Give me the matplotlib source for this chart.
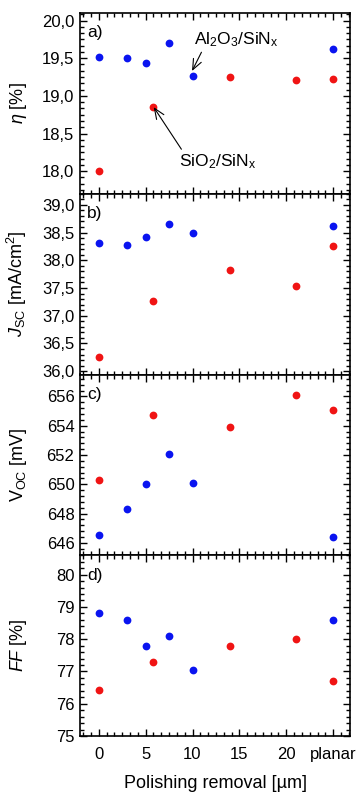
import matplotlib
matplotlib.use("Agg")
import matplotlib.pyplot as plt
from matplotlib.ticker import MultipleLocator, FixedLocator, FuncFormatter

plt.rcParams['font.family'] = ['Liberation Sans', 'DejaVu Sans']
plt.rcParams['mathtext.fontset'] = 'custom'
plt.rcParams['mathtext.rm'] = 'Liberation Sans'
plt.rcParams['mathtext.it'] = 'Liberation Sans:italic'

# x positions (polishing removal in µm; 25 stands for "planar")
x_al = [0, 3, 5, 7.5, 10, 25]
x_si = [0, 5.8, 14, 21, 25]

eta_al = [19.52, 19.50, 19.43, 19.70, 19.27, 19.62]
eta_si = [18.00, 18.85, 19.25, 19.21, 19.22]

jsc_al = [38.32, 38.28, 38.42, 38.65, 38.49, 38.62]
jsc_si = [36.26, 37.27, 37.83, 37.54, 38.26]

voc_al = [646.5, 648.3, 650.0, 652.1, 650.1, 646.4]
voc_si = [650.3, 654.7, 653.9, 656.1, 655.1]

ff_al = [78.8, 78.6, 77.8, 78.1, 77.06, 78.6]
ff_si = [76.44, 77.28, 77.8, 78.0, 76.69]

xtick_pos = [0, 5, 10, 15, 20, 25]
xtick_labels = ['0', '5', '10', '15', '20', 'planar']

ylabels = [r'$\it{\eta}$ [%]', r'$\it{J}_{\mathrm{SC}}$ [mA/cm$^2$]',
           r'V$_{\mathrm{OC}}$ [mV]', r'$\it{FF}$ [%]']
panel_letters = ['a)', 'b)', 'c)', 'd)']

ylims = [(17.7, 20.1), (35.94, 39.2), (645.15, 657.5), (75.0, 80.6)]
ymajor = [0.5, 0.5, 2, 1]
yminor = [0.5 / 6, 0.1, 0.4, 0.2]

blue = '#0a14f0'
red = '#f01414'

fig, axes = plt.subplots(4, 1, figsize=(3.62, 7.95), dpi=100, sharex=True)
fig.subplots_adjust(left=80 / 362, right=350 / 362, top=1 - 13 / 795, bottom=1 - 736 / 795, hspace=0)

data = [(eta_al, eta_si), (jsc_al, jsc_si), (voc_al, voc_si), (ff_al, ff_si)]

for i, ax in enumerate(axes):
    al, si = data[i]
    ax.plot(x_al, al, 'o', color=blue, ms=5.6, mec='none')
    ax.plot(x_si, si, 'o', color=red, ms=5.6, mec='none')
    ax.set_xlim(-2, 26.8)
    ax.set_ylim(*ylims[i])
    ax.xaxis.set_major_locator(FixedLocator(xtick_pos))
    ax.xaxis.set_minor_locator(MultipleLocator(5 / 6))
    ax.yaxis.set_major_locator(MultipleLocator(ymajor[i]))
    ax.yaxis.set_minor_locator(MultipleLocator(yminor[i]))
    if i < 2:
        ax.yaxis.set_major_formatter(FuncFormatter(lambda v, p: f'{v:.1f}'.replace('.', ',')))
    else:
        ax.yaxis.set_major_formatter(FuncFormatter(lambda v, p: f'{v:.0f}'))
    ax.tick_params(which='both', direction='in', top=True, right=True, labelsize=12, width=1.0)
    ax.tick_params(which='major', length=5, pad=4)
    ax.tick_params(axis='x', which='major', pad=8)
    ax.tick_params(which='minor', length=3)
    for s in ax.spines.values():
        s.set_linewidth(1.2)
    ax.set_ylabel(ylabels[i], fontsize=13)
    ax.yaxis.set_label_coords(-0.19, 0.5)
    ax.text(0.025, 0.89, panel_letters[i], transform=ax.transAxes, fontsize=12.5, ha='left', va='center')

axes[-1].set_xticklabels(xtick_labels)
axes[-1].set_xlabel('Polishing removal [µm]', fontsize=13, labelpad=9)

ax = axes[0]
ax.annotate(r'Al$_2$O$_3$/SiN$_\mathrm{x}$', xy=(9.95, 19.33), xytext=(10.2, 19.74),
            fontsize=12.5, ha='left', va='center',
            arrowprops=dict(arrowstyle='->,head_length=0.6,head_width=0.25', color='black', lw=0.8,
                            shrinkA=0, shrinkB=0, relpos=(0.1, 0.0)))
ax.annotate(r'SiO$_2$/SiN$_\mathrm{x}$', xy=(5.86, 18.85), xytext=(8.6, 18.13),
            fontsize=12.5, ha='left', va='center',
            arrowprops=dict(arrowstyle='->,head_length=0.6,head_width=0.25', color='black', lw=0.8,
                            shrinkA=0, shrinkB=0, relpos=(0.05, 1.0)))

fig.savefig('out.png', dpi=100)
